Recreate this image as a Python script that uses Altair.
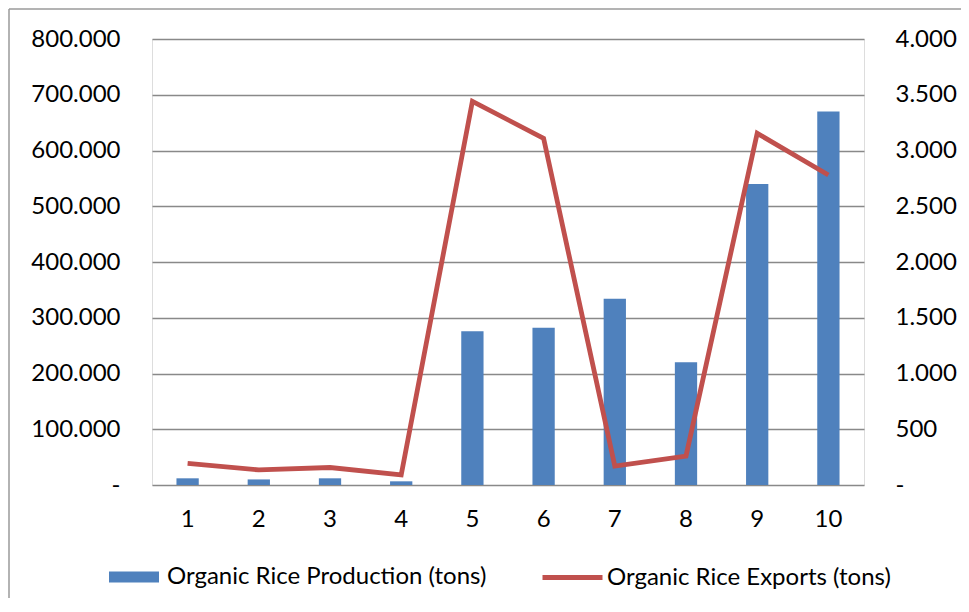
import altair as alt
import pandas as pd

categories = ["1", "2", "3", "4", "5", "6", "7", "8", "9", "10"]
production = [12000, 10000, 12000, 6600, 276000, 282000, 334000, 220000, 540000, 670000]
exports = [193, 135, 157, 90, 3441, 3109, 170, 260, 3154, 2780]
prod_name = "Organic Rice Production (tons)"
exp_name = "Organic Rice Exports (tons)"
left_ticks = [0, 100000, 200000, 300000, 400000, 500000, 600000, 700000, 800000]
right_ticks = [0, 500, 1000, 1500, 2000, 2500, 3000, 3500, 4000]

df = pd.DataFrame({
    "cat": categories,
    "production": production,
    "exports": exports,
    "pname": [prod_name] * len(categories),
    "ename": [exp_name] * len(categories),
})

FONT = "Lato"
FS = 24
LFS = 24
label_expr = "datum.value == 0 ? '-' : replace(format(datum.value, ','), ',', '.')"

xenc = alt.X("cat:N", sort=categories,
             scale=alt.Scale(paddingInner=0.687, paddingOuter=0.3435),
             axis=alt.Axis(title=None, labelAngle=0, ticks=False, domain=False,
                           labelPadding=22, labelFont=FONT, labelFontSize=FS,
                           labelColor="black"))

bars = alt.Chart(df).mark_bar(color="#4F81BD").encode(
    x=xenc,
    y=alt.Y("production:Q", scale=alt.Scale(domain=[0, 800000], nice=False),
            axis=alt.Axis(title=None, values=left_ticks, labelExpr=label_expr,
                          grid=True, gridColor="#898989", gridWidth=1.3,
                          domain=False, ticks=False, labelPadding=32,
                          labelFont=FONT, labelFontSize=FS, labelColor="black",
                          orient="left")),
    fill=alt.Fill("pname:N", scale=alt.Scale(domain=[prod_name], range=["#4F81BD"]),
                  legend=alt.Legend(title=None, orient="none", legendX=-44, legendY=512,
                                    symbolType="M-1,-0.22H1V0.22H-1Z", symbolSize=2500,
                                    labelOffset=7, labelFont=FONT, labelFontSize=LFS,
                                    labelColor="black", padding=0, symbolOpacity=1,
                                    labelLimit=1000)),
)

line = alt.Chart(df).mark_line(strokeWidth=4.8, color="#C0504D").encode(
    x=xenc,
    y=alt.Y("exports:Q", scale=alt.Scale(domain=[0, 4000], nice=False),
            axis=alt.Axis(title=None, values=right_ticks, labelExpr=label_expr,
                          grid=False, domain=False, ticks=False, labelPadding=31,
                          labelFont=FONT, labelFontSize=FS, labelColor="black",
                          orient="right")),
    stroke=alt.Stroke("ename:N", scale=alt.Scale(domain=[exp_name], range=["#C0504D"]),
                      legend=alt.Legend(title=None, orient="none", legendX=388, legendY=506,
                                        symbolType="stroke", symbolSize=3600,
                                        symbolStrokeWidth=4.8, labelOffset=2,
                                        labelFont=FONT, labelFontSize=LFS,
                                        labelColor="black", padding=0,
                                        labelLimit=1000)),
)

border_data = alt.Data(values=[{"k": 1}])
top_border = alt.Chart(border_data).mark_rule(color="#9A9A9A", strokeWidth=1.5).encode(
    x=alt.value(-143), x2=alt.value(810), y=alt.value(-30))
left_border = alt.Chart(border_data).mark_rule(color="#9A9A9A", strokeWidth=1.5).encode(
    x=alt.value(-143), y=alt.value(-30), y2=alt.value(560))

chart = alt.layer(bars, line, top_border, left_border).resolve_scale(
    y="independent"
).properties(
    width=712, height=446,
    padding={"left": 144, "top": 31, "right": 97, "bottom": 113},
    autosize=alt.AutoSizeParams(type="none"),
).configure_view(stroke="#898989", strokeWidth=1.3).configure(background="white")

chart.save("out.html", embed_options={"renderer": "svg", "actions": False})
